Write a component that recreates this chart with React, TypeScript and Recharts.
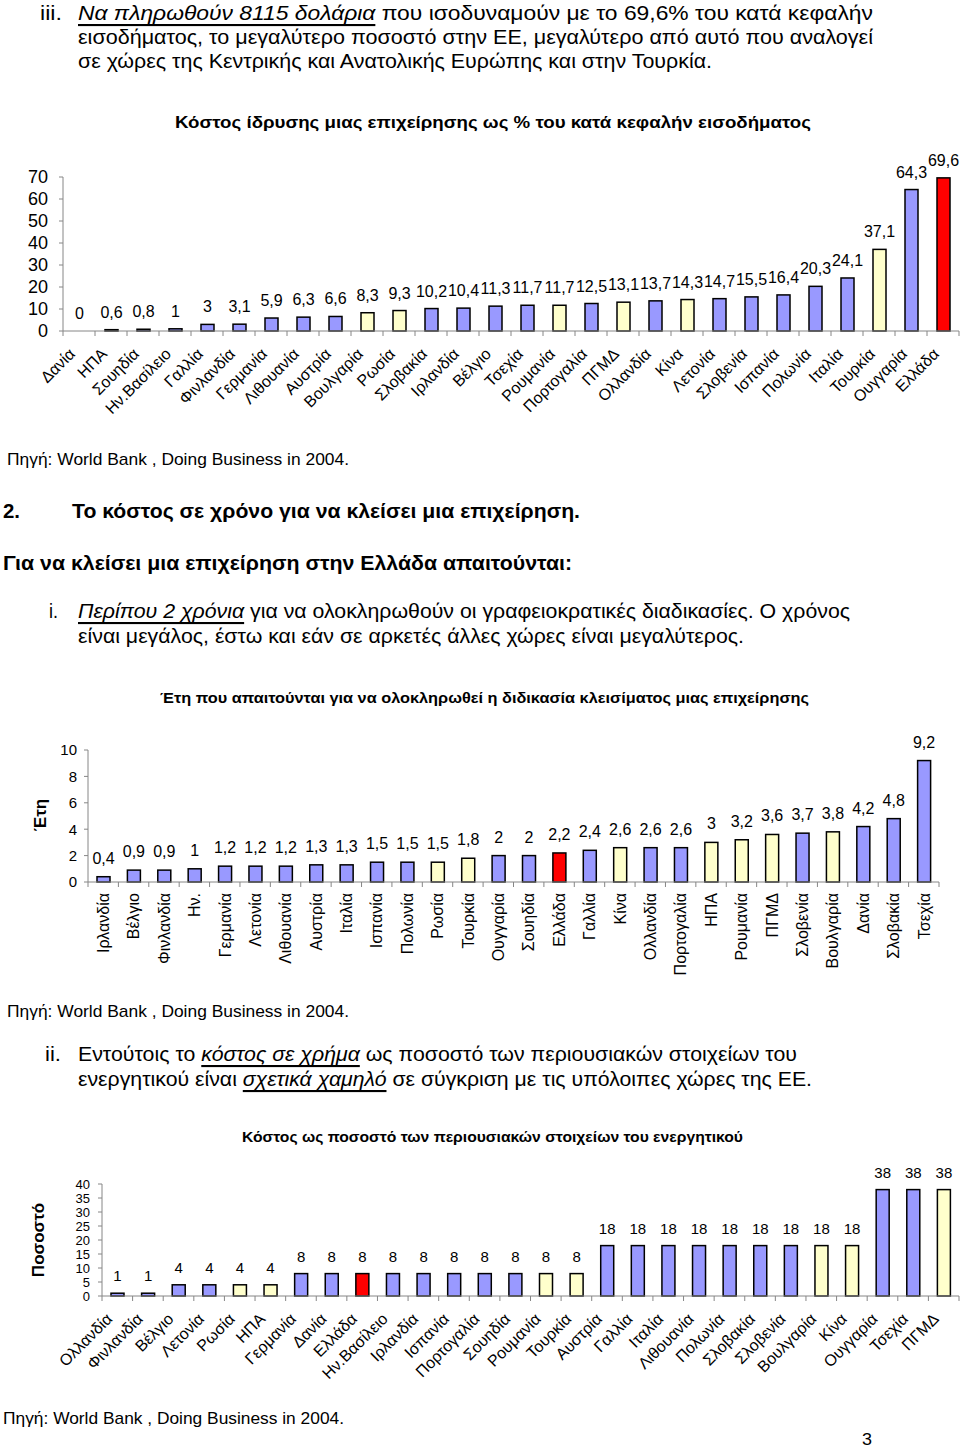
import React from 'react';
import { BarChart, Bar, XAxis, YAxis } from 'recharts';

const FONT = '"Liberation Sans", Arial, Helvetica, sans-serif';
const BLUE = '#9999ff';
const YELLOW = '#ffffcc';
const RED = '#ff0000';
const AXIS = '#868686';

// countries outside the EU are yellow, Greece is red, the rest blue
const nonEu = ['ΗΠΑ', 'Ρωσία', 'Βουλγαρία', 'Ρουμανία', 'ΠΓΜΔ', 'Κίνα', 'Τουρκία'];

// 1. start-up cost as % of income per capita
const startupCountries = ['Δανία', 'ΗΠΑ', 'Σουηδία', 'Ην.Βασίλειο', 'Γαλλία', 'Φινλανδία', 'Γερμανία', 'Λιθουανία', 'Αυστρία', 'Βουλγαρία', 'Ρωσία', 'Σλοβακία', 'Ιρλανδία', 'Βέλγιο', 'Τσεχία', 'Ρουμανία', 'Πορτογαλία', 'ΠΓΜΔ', 'Ολλανδία', 'Κίνα', 'Λετονία', 'Σλοβενία', 'Ισπανία', 'Πολωνία', 'Ιταλία', 'Τουρκία', 'Ουγγαρία', 'Ελλάδα'];
const startupCost = [0, 0.6, 0.8, 1, 3, 3.1, 5.9, 6.3, 6.6, 8.3, 9.3, 10.2, 10.4, 11.3, 11.7, 11.7, 12.5, 13.1, 13.7, 14.3, 14.7, 15.5, 16.4, 20.3, 24.1, 37.1, 64.3, 69.6];
const startupTicks = [0, 10, 20, 30, 40, 50, 60, 70];

// 2. years needed to close a business
const closingCountries = ['Ιρλανδία', 'Βέλγιο', 'Φινλανδία', 'Ην.', 'Γερμανία', 'Λετονία', 'Λιθουανία', 'Αυστρία', 'Ιταλία', 'Ισπανία', 'Πολωνία', 'Ρωσία', 'Τουρκία', 'Ουγγαρία', 'Σουηδία', 'Ελλάδα', 'Γαλλία', 'Κίνα', 'Ολλανδία', 'Πορτογαλία', 'ΗΠΑ', 'Ρουμανία', 'ΠΓΜΔ', 'Σλοβενία', 'Βουλγαρία', 'Δανία', 'Σλοβακία', 'Τσεχία'];
const closingYears = [0.4, 0.9, 0.9, 1, 1.2, 1.2, 1.2, 1.3, 1.3, 1.5, 1.5, 1.5, 1.8, 2, 2, 2.2, 2.4, 2.6, 2.6, 2.6, 3, 3.2, 3.6, 3.7, 3.8, 4.2, 4.8, 9.2];
const closingTicks = [0, 2, 4, 6, 8, 10];

// 3. closing cost as % of the estate
const costCountries = ['Ολλανδία', 'Φινλανδία', 'Βέλγιο', 'Λετονία', 'Ρωσία', 'ΗΠΑ', 'Γερμανία', 'Δανία', 'Ελλάδα', 'Ην.Βασίλειο', 'Ιρλανδία', 'Ισπανία', 'Πορτογαλία', 'Σουηδία', 'Ρουμανία', 'Τουρκία', 'Αυστρία', 'Γαλλία', 'Ιταλία', 'Λιθουανία', 'Πολωνία', 'Σλοβακία', 'Σλοβενία', 'Βουλγαρία', 'Κίνα', 'Ουγγαρία', 'Τσεχία', 'ΠΓΜΔ'];
const costPercent = [1, 1, 4, 4, 4, 4, 8, 8, 8, 8, 8, 8, 8, 8, 8, 8, 18, 18, 18, 18, 18, 18, 18, 18, 18, 38, 38, 38];
const costTicks = [0, 5, 10, 15, 20, 25, 30, 35, 40];

const colorFor = (name: string) => (name === 'Ελλάδα' ? RED : nonEu.includes(name) ? YELLOW : BLUE);
const fmt = (v: number) => String(v).replace('.', ',');

interface PanelProps {
  names: string[];
  values: number[];
  ticks: number[];
  top: number;
  height: number;
  marginTop: number;
  marginRight: number;
  yWidth: number;
  xHeight: number;
  yFont: number;
  yGap: number;
  labelFont: number;
  labelLift: number;
  catFont: number;
  vertical: boolean;
  catDx: number;
  catDy: number;
}

const Panel: React.FC<PanelProps> = (p) => {
  const width = 960;
  const data = p.names.map((name, i) => ({ name, value: p.values[i] }));
  const n = p.names.length;
  const band = (width - p.yWidth - p.marginRight) / n;

  // eslint-disable-next-line @typescript-eslint/no-explicit-any
  const CatTick = (props: any) => {
    const { x, y, payload, index } = props;
    const tx = p.vertical ? x : x + p.catDx;
    const ty = y + p.catDy;
    return (
      <g>
        <line x1={x - band / 2} y1={y} x2={x - band / 2} y2={y + 5} stroke={AXIS} />
        {index === n - 1 && <line x1={x + band / 2} y1={y} x2={x + band / 2} y2={y + 5} stroke={AXIS} />}
        <text
          x={tx}
          y={ty}
          transform={`rotate(${p.vertical ? -90 : -45}, ${tx}, ${ty})`}
          textAnchor="end"
          dy={p.vertical ? '0.36em' : 0}
          fontSize={p.catFont}
          fontFamily={FONT}
          fill="#000"
        >
          {payload.value}
        </text>
      </g>
    );
  };

  // bar plus its value label; a zero bar still shows its "0"
  // eslint-disable-next-line @typescript-eslint/no-explicit-any
  const BarShape = (props: any) => {
    const { x, y, width: w, height: h, payload } = props;
    return (
      <g>
        {h > 0 && (
          <rect x={x} y={y} width={w} height={h} fill={colorFor(payload.name)} stroke="#000" strokeWidth={1.5} />
        )}
        <text x={x + w / 2} y={y - p.labelLift} textAnchor="middle" fontSize={p.labelFont} fontFamily={FONT} fill="#000">
          {fmt(payload.value)}
        </text>
      </g>
    );
  };

  return (
    <div style={{ position: 'absolute', left: 0, top: p.top }}>
      <BarChart
        width={width}
        height={p.height}
        data={data}
        margin={{ top: p.marginTop, right: p.marginRight, bottom: 0, left: 0 }}
        barSize={13}
      >
        <XAxis
          dataKey="name"
          interval={0}
          height={p.xHeight}
          tickSize={0}
          tickMargin={0}
          tickLine={false}
          axisLine={{ stroke: AXIS }}
          tick={CatTick}
        />
        <YAxis
          width={p.yWidth}
          domain={[0, p.ticks[p.ticks.length - 1]]}
          ticks={p.ticks}
          interval={0}
          tickSize={4}
          tickMargin={p.yGap - 4}
          axisLine={{ stroke: AXIS }}
          tickLine={{ stroke: AXIS }}
          tick={{ fill: '#000', fontSize: p.yFont, fontFamily: FONT }}
        />
        <Bar dataKey="value" isAnimationActive={false} shape={BarShape} />
      </BarChart>
    </div>
  );
};

const Line: React.FC<{ x: number; y: number; w: number; size: number; bold?: boolean; children: React.ReactNode }> = ({ x, y, w, size, bold, children }) => (
  <text
    x={x}
    y={y}
    textLength={w}
    lengthAdjust="spacingAndGlyphs"
    fontSize={size}
    fontWeight={bold ? 'bold' : 'normal'}
    dominantBaseline="central"
    fontFamily={FONT}
    fill="#000"
  >
    {children}
  </text>
);

const U: React.FC<{ children: React.ReactNode }> = ({ children }) => (
  <tspan fontStyle="italic" style={{ textDecoration: 'underline' }}>{children}</tspan>
);

const RotLabel: React.FC<{ x: number; y: number; text: string }> = ({ x, y, text }) => (
  <text x={x} y={y} transform={`rotate(-90, ${x}, ${y})`} textAnchor="middle" dominantBaseline="central" fontSize={17} fontWeight="bold" fontFamily={FONT} fill="#000">
    {text}
  </text>
);

export default function App() {
  return (
    <div style={{ position: 'absolute', left: 0, top: 0, width: 960, height: 1449, background: '#fff', overflow: 'hidden' }}>
      <Panel
        names={startupCountries}
        values={startupCost}
        ticks={startupTicks}
        top={150}
        height={300}
        marginTop={27}
        marginRight={1}
        yWidth={63}
        xHeight={119}
        yFont={18}
        yGap={15}
        labelFont={16}
        labelLift={12}
        catFont={16}
        vertical={false}
        catDx={-3}
        catDy={24}
      />
      <Panel
        names={closingCountries}
        values={closingYears}
        ticks={closingTicks}
        top={730}
        height={250}
        marginTop={20}
        marginRight={21}
        yWidth={88}
        xHeight={98}
        yFont={15}
        yGap={11}
        labelFont={16}
        labelLift={13}
        catFont={16}
        vertical
        catDx={0}
        catDy={11}
      />
      <Panel
        names={costCountries}
        values={costPercent}
        ticks={costTicks}
        top={1160}
        height={250}
        marginTop={24}
        marginRight={1}
        yWidth={102}
        xHeight={114}
        yFont={13}
        yGap={12}
        labelFont={15}
        labelLift={12}
        catFont={16}
        vertical={false}
        catDx={-4}
        catDy={24}
      />
      <svg width={960} height={1449} style={{ position: 'absolute', left: 0, top: 0, pointerEvents: 'none' }}>
        <Line x={40} y={12} w={22} size={21}>iii.</Line>
        <Line x={78} y={12} w={795} size={21}>
          <U>Να πληρωθούν 8115 δολάρια</U> που ισοδυναμούν με το 69,6% του κατά κεφαλήν
        </Line>
        <Line x={78} y={36} w={795} size={21}>εισοδήματος, το μεγαλύτερο ποσοστό στην ΕΕ, μεγαλύτερο από αυτό που αναλογεί</Line>
        <Line x={78} y={60} w={634} size={21}>σε χώρες της Κεντρικής και Ανατολικής Ευρώπης και στην Τουρκία.</Line>
        <Line x={175} y={122} w={636} size={17} bold>Κόστος ίδρυσης μιας επιχείρησης ως % του  κατά κεφαλήν  εισοδήματος</Line>
        <Line x={7} y={459} w={342} size={17}>Πηγή: World Bank , Doing Business in 2004.</Line>
        <Line x={3} y={510} w={17} size={21} bold>2.</Line>
        <Line x={72} y={510} w={508} size={21} bold>Το κόστος σε χρόνο για να κλείσει μια επιχείρηση.</Line>
        <Line x={3} y={562} w={569} size={21} bold>Για να κλείσει μια επιχείρηση στην Ελλάδα απαιτούνται:</Line>
        <Line x={49} y={610} w={9} size={21}>i.</Line>
        <Line x={78} y={610} w={772} size={21}>
          <U>Περίπου 2 χρόνια</U> για να ολοκληρωθούν οι γραφειοκρατικές διαδικασίες. Ο χρόνος
        </Line>
        <Line x={78} y={635} w={666} size={21}>είναι μεγάλος, έστω και εάν σε αρκετές άλλες χώρες είναι μεγαλύτερος.</Line>
        <Line x={160} y={697} w={649} size={15} bold>Έτη που απαιτούνται για να ολοκληρωθεί η διδικασία κλεισίματος μιας επιχείρησης</Line>
        <RotLabel x={40} y={815} text="Έτη" />
        <Line x={7} y={1011} w={342} size={17}>Πηγή: World Bank , Doing Business in 2004.</Line>
        <Line x={45} y={1053} w={16} size={21}>ii.</Line>
        <Line x={78} y={1053} w={719} size={21}>
          Εντούτοις το <U>κόστος σε χρήμα</U> ως ποσοστό των περιουσιακών στοιχείων του
        </Line>
        <Line x={78} y={1078} w={734} size={21}>
          ενεργητικού είναι <U>σχετικά χαμηλό</U> σε σύγκριση με τις υπόλοιπες χώρες της ΕΕ.
        </Line>
        <Line x={242} y={1136} w={501} size={15} bold>Κόστος ως ποσοστό των περιουσιακών στοιχείων του ενεργητικού</Line>
        <RotLabel x={38} y={1240} text="Ποσοστό" />
        <Line x={3} y={1418} w={341} size={17}>Πηγή: World Bank , Doing Business in 2004.</Line>
        <Line x={862} y={1439} w={10} size={16}>3</Line>
      </svg>
    </div>
  );
}
